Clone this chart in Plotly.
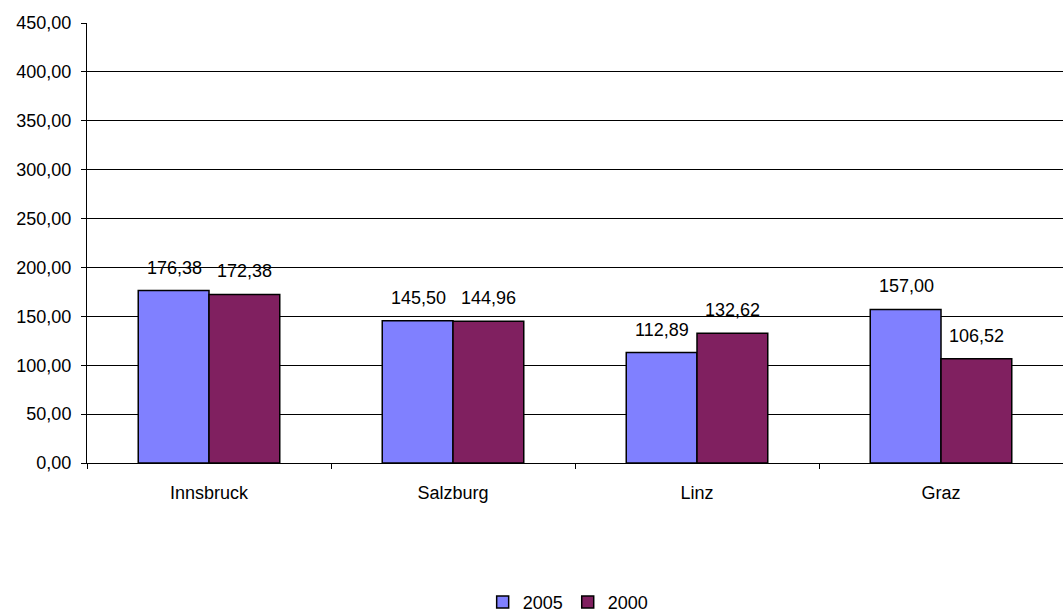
import plotly.graph_objects as go

categories = ["Innsbruck", "Salzburg", "Linz", "Graz"]
values_2005 = [176.38, 145.50, 112.89, 157.00]
values_2000 = [172.38, 144.96, 132.62, 106.52]
y_ticks = [0, 50, 100, 150, 200, 250, 300, 350, 400, 450]

FONT = "Liberation Sans, Arial, sans-serif"
FS = 18

def fmt(v):
    return f"{v:.2f}".replace(".", ",")

fig = go.Figure()
fig.add_trace(go.Bar(name="2005", x=categories, y=values_2005,
                     marker=dict(color="#8080FF", line=dict(color="black", width=1.5))))
fig.add_trace(go.Bar(name="2000", x=categories, y=values_2000,
                     marker=dict(color="#802060", line=dict(color="black", width=1.5))))

annotations = []
for series, shift in ((values_2005, -35), (values_2000, 35)):
    for c, v in zip(categories, series):
        annotations.append(dict(x=c, y=v, xref="x", yref="y", text=fmt(v),
                                showarrow=False, xshift=shift, yshift=23,
                                yanchor="middle", font=dict(family=FONT, size=FS, color="black")))

fig.update_layout(
    width=1063, height=612,
    margin=dict(l=87, r=0, t=23, b=149),
    paper_bgcolor="white", plot_bgcolor="white",
    barmode="group", bargap=0.42, bargroupgap=0,
    separators=",.",
    font=dict(family=FONT, size=FS, color="black"),
    annotations=annotations,
    showlegend=True,
    legend=dict(orientation="h", x=0.493, xanchor="center",
                yref="container", y=0.016, yanchor="middle",
                font=dict(family=FONT, size=FS, color="black"),
                itemwidth=30, tracegroupgap=0),
    xaxis=dict(showline=True, linecolor="black", linewidth=1,
               ticks="outside", ticklen=5, tickcolor="black", tickson="boundaries",
               ticklabelstandoff=13,
               showgrid=False, tickfont=dict(family=FONT, size=FS)),
    yaxis=dict(range=[0, 450], tickvals=y_ticks, tickformat=".2f",
               showline=True, linecolor="black", linewidth=1,
               ticks="outside", ticklen=5, tickcolor="black",
               ticklabelstandoff=6,
               showgrid=True, gridcolor="black", gridwidth=1,
               zeroline=False, tickfont=dict(family=FONT, size=FS)),
)

fig.write_html("out.html")
